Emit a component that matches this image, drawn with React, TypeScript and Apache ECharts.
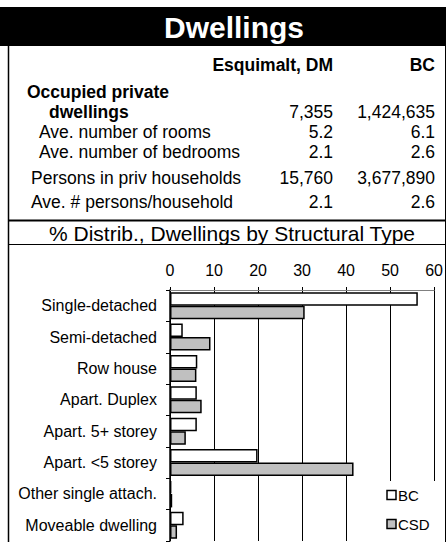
import React, { useEffect, useRef } from "react";
import * as echarts from "echarts";

const categories = [
  "Single-detached",
  "Semi-detached",
  "Row house",
  "Apart. Duplex",
  "Apart. 5+ storey",
  "Apart. <5 storey",
  "Other single attach.",
  "Moveable dwelling",
];
const bcValues = [56.3, 2.9, 6.2, 6.1, 6.1, 19.9, 0.3, 3.1];
const csdValues = [30.6, 9.2, 6.0, 7.2, 3.6, 41.7, 0.5, 1.6];
const xTicks = { min: 0, max: 60, interval: 10 };
const seriesNames = ["BC", "CSD"];
const seriesColors = ["#ffffff", "#c0c0c0"];

const titleText = "Dwellings";
const sectionTitle = "% Distrib., Dwellings by Structural Type";
const colHeaders = ["Esquimalt, DM", "BC"];
const rowLabels = [
  "dwellings",
  "Ave. number of rooms",
  "Ave. number of bedrooms",
  "Persons in priv households",
  "Ave. # persons/household",
];
const esqValues = ["7,355", "5.2", "2.1", "15,760", "2.1"];
const bcTableValues = ["1,424,635", "6.1", "2.6", "3,677,890", "2.6"];

const FONT = "'Liberation Sans', Arial, sans-serif";

export default function App() {
  const chartRef = useRef<HTMLDivElement>(null);
  const tableRef = useRef<HTMLDivElement>(null);
  useEffect(() => {
    if (!chartRef.current || !tableRef.current) return;
    const chart = echarts.init(chartRef.current, null, { renderer: "svg" });
    const table = echarts.init(tableRef.current, null, { renderer: "svg" });

    chart.setOption({
      animation: false,
      grid: { left: 170, right: 9, top: 290, bottom: 1 },
      xAxis: {
        type: "value",
        position: "top",
        min: xTicks.min,
        max: xTicks.max,
        interval: xTicks.interval,
        axisLine: { show: true, lineStyle: { color: "gray", width: 1 } },
        axisTick: { show: true, length: 3, lineStyle: { color: "black", width: 1 } },
        axisLabel: { color: "black", fontSize: 16, fontFamily: FONT, margin: 12 },
        splitLine: { show: true, lineStyle: { color: "black", width: 1 } },
      },
      yAxis: {
        type: "category",
        inverse: true,
        data: categories,
        axisLine: { show: true, lineStyle: { color: "black", width: 1.5 } },
        axisTick: { show: true, length: 4, lineStyle: { color: "black", width: 1 } },
        axisLabel: { color: "black", fontSize: 16, fontFamily: FONT, margin: 13 },
      },
      series: [
        {
          name: seriesNames[0],
          type: "bar",
          data: bcValues,
          barGap: "0%",
          barCategoryGap: "14%",
          itemStyle: { color: seriesColors[0], borderColor: "#000", borderWidth: 1.5 },
        },
        {
          name: seriesNames[1],
          type: "bar",
          data: csdValues,
          barGap: "0%",
          barCategoryGap: "14%",
          itemStyle: { color: seriesColors[1], borderColor: "#000", borderWidth: 1.5 },
        },
      ],
    } as any);

    const rowY = [112, 132, 152, 178, 202];
    const rowX = [49, 39, 39, 31, 31];
    const rowBold = [true, false, false, false, false];
    const TS = "17.5px";
    const tableTexts: any[] = [];
    rowLabels.forEach((lab, i) => {
      tableTexts.push({
        type: "text",
        x: rowX[i],
        y: rowY[i],
        style: {
          text: lab,
          fill: "#000",
          font: `${rowBold[i] ? "bold " : ""}${TS} ${FONT}`,
          textAlign: "left",
          textVerticalAlign: "middle",
        },
      });
      tableTexts.push({
        type: "text",
        x: 333,
        y: rowY[i],
        style: { text: esqValues[i], fill: "#000", font: `${TS} ${FONT}`, textAlign: "right", textVerticalAlign: "middle" },
      });
      tableTexts.push({
        type: "text",
        x: 435,
        y: rowY[i],
        style: { text: bcTableValues[i], fill: "#000", font: `${TS} ${FONT}`, textAlign: "right", textVerticalAlign: "middle" },
      });
    });

    const legendY = [495, 524];
    const legendEls: any[] = [
      { type: "rect", shape: { x: 377, y: 481, width: 68, height: 61 }, style: { fill: "#fff" } },
    ];
    seriesNames.forEach((nm, i) => {
      legendEls.push({
        type: "rect",
        shape: { x: 387, y: legendY[i] - 4.5, width: 9, height: 9 },
        style: { fill: seriesColors[i], stroke: "#000", lineWidth: 1.5 },
      });
      legendEls.push({
        type: "text",
        x: 398,
        y: legendY[i],
        style: { text: nm, fill: "#000", font: `15px ${FONT}`, textAlign: "left", textVerticalAlign: "middle" },
      });
    });

    table.setOption({
      animation: false,
      graphic: [
        { type: "rect", shape: { x: 0, y: 7, width: 446, height: 39 }, style: { fill: "#000" } },
        {
          type: "text",
          x: 234,
          y: 27,
          style: { text: titleText, fill: "#fff", font: `bold 30px ${FONT}`, textAlign: "center", textVerticalAlign: "middle" },
        },
        { type: "rect", shape: { x: 7.75, y: 46, width: 1.5, height: 496 }, style: { fill: "#000" } },
        { type: "rect", shape: { x: 445, y: 46, width: 1, height: 496 }, style: { fill: "#000" } },
        { type: "rect", shape: { x: 8, y: 219.5, width: 438, height: 2 }, style: { fill: "#000" } },
        { type: "rect", shape: { x: 8, y: 244, width: 438, height: 1 }, style: { fill: "#000" } },
        {
          type: "text",
          x: 333,
          y: 65,
          style: { text: colHeaders[0], fill: "#000", font: `bold ${TS} ${FONT}`, textAlign: "right", textVerticalAlign: "middle" },
        },
        {
          type: "text",
          x: 435,
          y: 65,
          style: { text: colHeaders[1], fill: "#000", font: `bold ${TS} ${FONT}`, textAlign: "right", textVerticalAlign: "middle" },
        },
        {
          type: "text",
          x: 27,
          y: 92,
          style: { text: "Occupied private", fill: "#000", font: `bold ${TS} ${FONT}`, textAlign: "left", textVerticalAlign: "middle" },
        },
        ...tableTexts,
        {
          type: "text",
          x: 232,
          y: 233,
          style: { text: sectionTitle, fill: "#000", font: `21px ${FONT}`, textAlign: "center", textVerticalAlign: "middle" },
        },
        ...legendEls,
      ],
    } as any);

    return () => {
      chart.dispose();
      table.dispose();
    };
  }, []);
  return (
    <div style={{ position: "absolute", left: 0, top: 0, width: 446, height: 542, background: "#fff" }}>
      <div ref={chartRef} style={{ width: 446, height: 542, position: "absolute", left: 0, top: 0 }} />
      <div ref={tableRef} style={{ width: 446, height: 542, position: "absolute", left: 0, top: 0, pointerEvents: "none" }} />
    </div>
  );
}
